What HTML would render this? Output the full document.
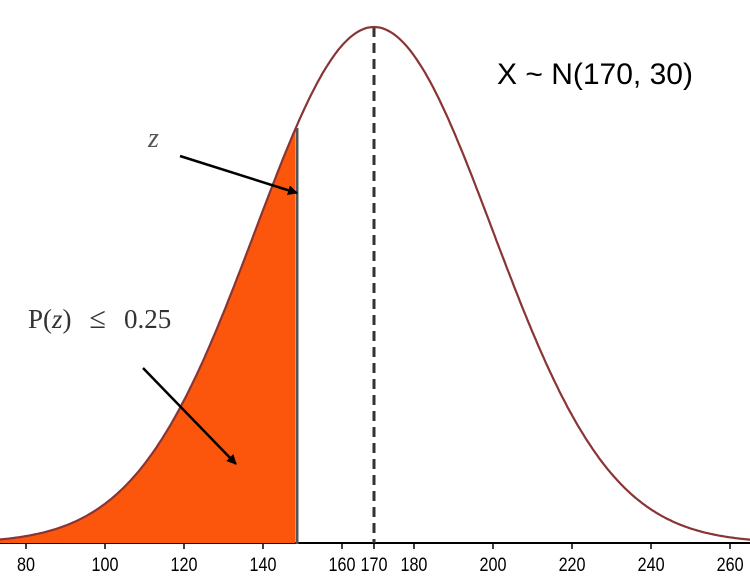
<!DOCTYPE html>
<html><head><style>body{margin:0;background:#fff}svg{display:block}</style></head><body>
<svg width="750" height="583" viewBox="0 0 750 583" xmlns="http://www.w3.org/2000/svg">
<defs><marker id="a" markerWidth="10" markerHeight="10" refX="9" refY="5" orient="auto" markerUnits="userSpaceOnUse"><path d="M0,0 L10,5 L0,10 z" fill="#000"/></marker></defs>
<line x1="0" y1="543" x2="750" y2="543" stroke="#000" stroke-width="2"/>
<path id="fill" fill="#fb560c" stroke="none"/>
<line x1="297" y1="128" x2="297" y2="544" stroke="#555" stroke-width="3"/>
<line x1="374" y1="27" x2="374" y2="543" stroke="#333" stroke-width="3" stroke-dasharray="10,6"/>
<path id="curve" fill="none" stroke="#8a3535" stroke-width="2.2"/>
<g stroke="#000" stroke-width="1.5">
<line x1="26" y1="543" x2="26" y2="549"/><line x1="105" y1="543" x2="105" y2="549"/><line x1="184" y1="543" x2="184" y2="549"/><line x1="263" y1="543" x2="263" y2="549"/><line x1="342" y1="543" x2="342" y2="549"/><line x1="374" y1="543" x2="374" y2="549"/><line x1="414" y1="543" x2="414" y2="549"/><line x1="493" y1="543" x2="493" y2="549"/><line x1="572" y1="543" x2="572" y2="549"/><line x1="651" y1="543" x2="651" y2="549"/><line x1="730" y1="543" x2="730" y2="549"/>
</g>
<g font-family="Liberation Sans, sans-serif" font-size="19" text-anchor="middle" fill="#000" transform="scale(0.85,1)">
<text x="30.6" y="571">80</text><text x="123.5" y="571">100</text><text x="216.5" y="571">120</text><text x="309.4" y="571">140</text><text x="402.4" y="571">160</text><text x="440" y="571">170</text><text x="487" y="571">180</text><text x="580" y="571">200</text><text x="673" y="571">220</text><text x="766" y="571">240</text><text x="859" y="571">260</text>
</g>
<text x="497" y="84" font-family="Liberation Sans, sans-serif" font-size="30">X ~ N(170, 30)</text>
<text x="148" y="147" font-family="Liberation Serif, serif" font-style="italic" font-size="28" fill="#555">z</text>
<text x="28" y="328" font-family="Liberation Serif, serif" font-size="27" fill="#333">P(<tspan font-style="italic">z</tspan>)<tspan dx="18" font-size="30">≤</tspan><tspan dx="18">0.25</tspan></text>
<line x1="180" y1="156" x2="297" y2="193" stroke="#000" stroke-width="2.5" marker-end="url(#a)"/>
<line x1="143" y1="368" x2="236" y2="464" stroke="#000" stroke-width="2.5" marker-end="url(#a)"/>
<script>
var X=v=>374+(v-170)*3.95,Y=v=>543-516*Math.exp(-Math.pow(v-170,2)/1800);
var d="",f="M0,543 ";
for(var v=75;v<=266;v+=0.5){var p=X(v).toFixed(1)+","+Y(v).toFixed(1);d+=(d?"L":"M")+p+" ";if(v<=150)f+="L"+p+" ";}
f+="L"+X(150)+",543 Z";
document.getElementById("curve").setAttribute("d",d);
document.getElementById("fill").setAttribute("d",f);
</script>
</svg>
</body></html>
